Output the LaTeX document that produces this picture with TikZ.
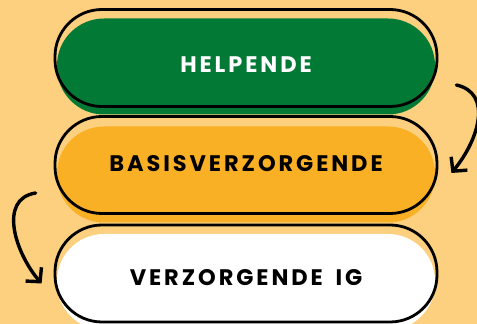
\documentclass[tikz,border=0pt]{standalone}
\usepackage{fontspec}
\usepackage{tikz}
\usetikzlibrary{positioning, arrows.meta}
\newfontfamily\pillfont{Poppins}[LetterSpace=13]

\definecolor{bgsand}{HTML}{FCD07F}
\definecolor{hgreen}{HTML}{027A35}
\definecolor{borange}{HTML}{FAB024}

\begin{document}
\begin{tikzpicture}[x=1pt, y=1pt]
    \tikzstyle{pillfill} = [rectangle, rounded corners=47pt, minimum width=378pt, minimum height=96pt, draw=none, inner sep=0pt]
\tikzstyle{pilledge} = [rectangle, rounded corners=47pt, minimum width=382pt, minimum height=97pt, draw=black, line width=2.8pt, inner sep=0pt]
\tikzstyle{pilltext} = [font=\pillfont\bfseries\fontsize{22.5}{24}\selectfont, inner sep=0pt]
\tikzstyle{arrow} = [line width=3.4pt, line cap=round, -{Straight Barb[length=10pt, width=21pt, line width=3.4pt]}]
    \fill[bgsand] (0,0) rectangle (477,324);
    \useasboundingbox (0,0) rectangle (477,324);
    \clip (0,0) rectangle (477,324);

% helpende
\node (helpfill) [pillfill, fill=hgreen] at (246,257.5) {};
\node (helpedge) [pilledge] at (246,266) {};
\node (help) [pilltext, text=white] at (246,259.5) {HELPENDE};

% basisverzorgende
\node (basisfill) [pillfill, fill=borange] at (246,149.5) {};
\node (basisedge) [pilledge] at (246,159) {};
\node (basis) [pilltext] at (246,160.5) {BASISVERZORGENDE};

% verzorgende ig
\node (vzfill) [pillfill, fill=white] at (246,42) {};
\node (vzedge) [pilledge] at (246,50.5) {};
\node (vz) [pilltext] at (246,46) {VERZORGENDE\hspace{5pt} IG};

\draw[arrow] ([shift={(18,-27)}]helpedge.east) .. controls +(36,-8) and +(28,34) .. ([shift={(13,-8)}]basisedge.east);
\draw[arrow] ([shift={(-18,-28)}]basisedge.west) .. controls +(-38,-6) and +(-26,30) .. ([shift={(-12,-10)}]vzedge.west);
  \end{tikzpicture}
\end{document}
